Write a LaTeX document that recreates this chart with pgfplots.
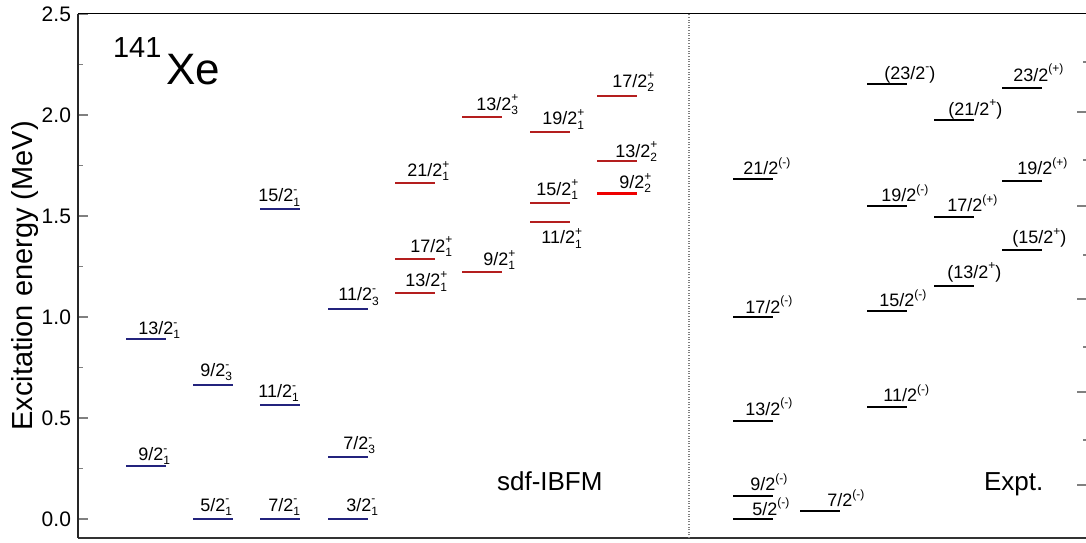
\documentclass[border=0pt]{standalone}
\usepackage{fontspec}
\setmainfont{Liberation Sans}
\usepackage{pgfplots}
\usepackage{pgfplotstable}
\pgfplotsset{compat=1.18}
\definecolor{lvblue}{RGB}{35,35,125}
\definecolor{lvred}{RGB}{180,30,30}
\definecolor{lvbright}{RGB}{238,0,0}
\newcommand{\lfont}{\fontsize{9}{9}\selectfont}
\newcommand{\sfont}{\fontsize{6}{6}\selectfont}
\newcommand{\ts}[3]{#1\makebox[0pt][l]{\raisebox{0.85ex}{\sfont #2}}\raisebox{-0.45ex}{\sfont #3}}
\newcommand{\ex}[2]{#1\raisebox{0.9ex}{\sfont #2}}

% theory, negative parity (blue)
\pgfplotstableread{
x E
126 0.889
126 0.262
193 0.665
193 0.000
260 1.533
260 0.566
260 0.000
328 1.041
328 0.307
328 0.000
}\thneg
% theory, positive parity (red)
\pgfplotstableread{
x E
395 1.663
395 1.286
395 1.120
462 1.989
462 1.221
530 1.916
530 1.566
530 1.469
597 2.094
597 1.774
}\thpos
\pgfplotstableread{
x E
597 1.612
}\thhl
% experiment
\pgfplotstableread{
x E
733 1.682
733 1.000
733 0.485
733 0.114
733 0.000
800 0.041
867 2.153
867 1.548
867 1.031
867 0.553
934 1.975
934 1.497
934 1.153
1002 2.134
1002 1.672
1002 1.332
}\expt

\begin{document}
\begin{tikzpicture}
\begin{axis}[
  name=ax,
  width=504pt, height=262pt, scale only axis,
  xmin=78, xmax=1086, ymin=-0.094, ymax=2.5,
  xtick=\empty,
  ytick={0,0.5,1,1.5,2,2.5},
  minor ytick={0.25,0.75,1.25,1.75,2.25},
  yticklabel style={/pgf/number format/.cd, fixed, fixed zerofill, precision=1},
  /pgf/number format/assume math mode=true,
  ytick pos=left, tick align=inside,
  major tick length=5pt, minor tick length=2.5pt,
  tick style={gray, line width=0.6pt},
  axis x line*=bottom, axis y line*=left,
  x axis line style={black!80, line width=1.3pt},
  y axis line style={black!85, line width=1pt},
  ticklabel style={font=\fontsize{10.5}{10.5}\selectfont},
  ylabel={Excitation energy (MeV)},
  ylabel style={font=\fontsize{14.5}{14.5}\selectfont, at={(rel axis cs:-0.0456,0.5)}, anchor=base},
  clip=false,
  every node/.append style={inner sep=0pt},
]
\addplot[quiver={u=40, v=0}, lvblue, line width=1pt] table[x=x, y=E] {\thneg};
\addplot[quiver={u=40, v=0}, lvred, line width=1pt] table[x=x, y=E] {\thpos};
\addplot[quiver={u=40, v=0}, lvbright, line width=1.8pt] table[x=x, y=E] {\thhl};
\addplot[quiver={u=40, v=0}, black, line width=1pt] table[x=x, y=E] {\expt};

\draw[black, line width=0.5pt] (rel axis cs:0,1) -- (rel axis cs:1,1);
\draw[gray, line width=0.6pt, dash pattern=on 0.5pt off 0.8pt] (axis cs:689,-0.094) -- (axis cs:689,2.5);

% title
\node[anchor=base west, font=\fontsize{22}{22}\selectfont] at (axis cs:159,2.149) {Xe};
\node[anchor=base west, font=\fontsize{14.5}{14.5}\selectfont] at (axis cs:106,2.287) {141};
\node[anchor=base west, font=\fontsize{13}{13}\selectfont] at (axis cs:490,0.1436) {sdf-IBFM};
\node[anchor=base west, font=\fontsize{13}{13}\selectfont] at (axis cs:977,0.1436) {Expt.};

% theory labels
\begin{scope}[every node/.style={anchor=base west, inner sep=0pt, font=\lfont}]
\node[yshift=2.5pt] at (axis cs:138,0.889) {\ts{13/2}{-}{1}};
\node[yshift=3pt] at (axis cs:138,0.262) {\ts{9/2}{-}{1}};
\node[yshift=4pt] at (axis cs:200,0.665) {\ts{9/2}{-}{3}};
\node[yshift=4pt] at (axis cs:200,0.000) {\ts{5/2}{-}{1}};
\node[yshift=3.8pt] at (axis cs:258,1.533) {\ts{15/2}{-}{1}};
\node[yshift=3.7pt] at (axis cs:258,0.566) {\ts{11/2}{-}{1}};
\node[yshift=4pt] at (axis cs:268,0.000) {\ts{7/2}{-}{1}};
\node[yshift=4pt] at (axis cs:338,1.041) {\ts{11/2}{-}{3}};
\node[yshift=3.8pt] at (axis cs:343,0.307) {\ts{7/2}{-}{3}};
\node[yshift=4pt] at (axis cs:346,0.000) {\ts{3/2}{-}{1}};
\node[yshift=3.2pt] at (axis cs:407,1.663) {\ts{21/2}{+}{1}};
\node[yshift=3.6pt] at (axis cs:410,1.286) {\ts{17/2}{+}{1}};
\node[yshift=3pt] at (axis cs:405,1.120) {\ts{13/2}{+}{1}};
\node[yshift=3.6pt] at (axis cs:476,1.989) {\ts{13/2}{+}{3}};
\node[yshift=3.6pt] at (axis cs:483,1.221) {\ts{9/2}{+}{1}};
\node[yshift=3.5pt] at (axis cs:542,1.916) {\ts{19/2}{+}{1}};
\node[yshift=3.8pt] at (axis cs:536,1.566) {\ts{15/2}{+}{1}};
\node[yshift=-10.8pt] at (axis cs:541,1.469) {\ts{11/2}{+}{1}};
\node[yshift=4.3pt] at (axis cs:612,2.094) {\ts{17/2}{+}{2}};
\node[yshift=1.8pt] at (axis cs:615,1.774) {\ts{13/2}{+}{2}};
\node[yshift=2.4pt] at (axis cs:619,1.612) {\ts{9/2}{+}{2}};
% experiment labels
\node[yshift=2.2pt] at (axis cs:743,1.682) {\ex{21/2}{(-)}};
\node[yshift=2pt] at (axis cs:745,1.000) {\ex{17/2}{(-)}};
\node[yshift=3pt] at (axis cs:745,0.485) {\ex{13/2}{(-)}};
\node[yshift=2.7pt] at (axis cs:750,0.114) {\ex{9/2}{(-)}};
\node[yshift=1.8pt] at (axis cs:752,0.000) {\ex{5/2}{(-)}};
\node[yshift=2pt] at (axis cs:827,0.041) {\ex{7/2}{(-)}};
\node[yshift=2.3pt] at (axis cs:884,2.153) {\ex{(23/2}{-})};
\node[yshift=2.3pt] at (axis cs:881,1.548) {\ex{19/2}{(-)}};
\node[yshift=2pt] at (axis cs:879,1.031) {\ex{15/2}{(-)}};
\node[yshift=2.8pt] at (axis cs:883,0.553) {\ex{11/2}{(-)}};
\node[yshift=2.5pt] at (axis cs:948,1.975) {\ex{(21/2}{+})};
\node[yshift=2.5pt] at (axis cs:947,1.497) {\ex{17/2}{(+)}};
\node[yshift=3.8pt] at (axis cs:947,1.153) {\ex{(13/2}{+})};
\node[yshift=3.2pt] at (axis cs:1013,2.134) {\ex{23/2}{(+)}};
\node[yshift=3.2pt] at (axis cs:1017,1.672) {\ex{19/2}{(+)}};
\node[yshift=3pt] at (axis cs:1012,1.332) {\ex{(15/2}{+})};
\end{scope}
\end{axis}

\begin{axis}[
  width=504pt, height=262pt, scale only axis,
  at={(ax.south west)}, anchor=south west,
  xmin=0, xmax=1, ymin=0, ymax=524,
  hide x axis,
  axis y line*=right,
  y axis line style={draw=none},
  ytick={53,146,239,332,426},
  minor ytick={98,191,283,378,476},
  yticklabels={},
  tick align=inside,
  major tick length=4.5pt, minor tick length=1.5pt,
  tick style={gray, line width=0.6pt},
]
\addplot[draw=none] coordinates {(0,0) (1,524)};
\end{axis}

\pgfresetboundingbox
\path ([xshift=-39pt,yshift=-2pt]ax.south west) rectangle ([yshift=7pt]ax.north east);
\end{tikzpicture}
\end{document}
